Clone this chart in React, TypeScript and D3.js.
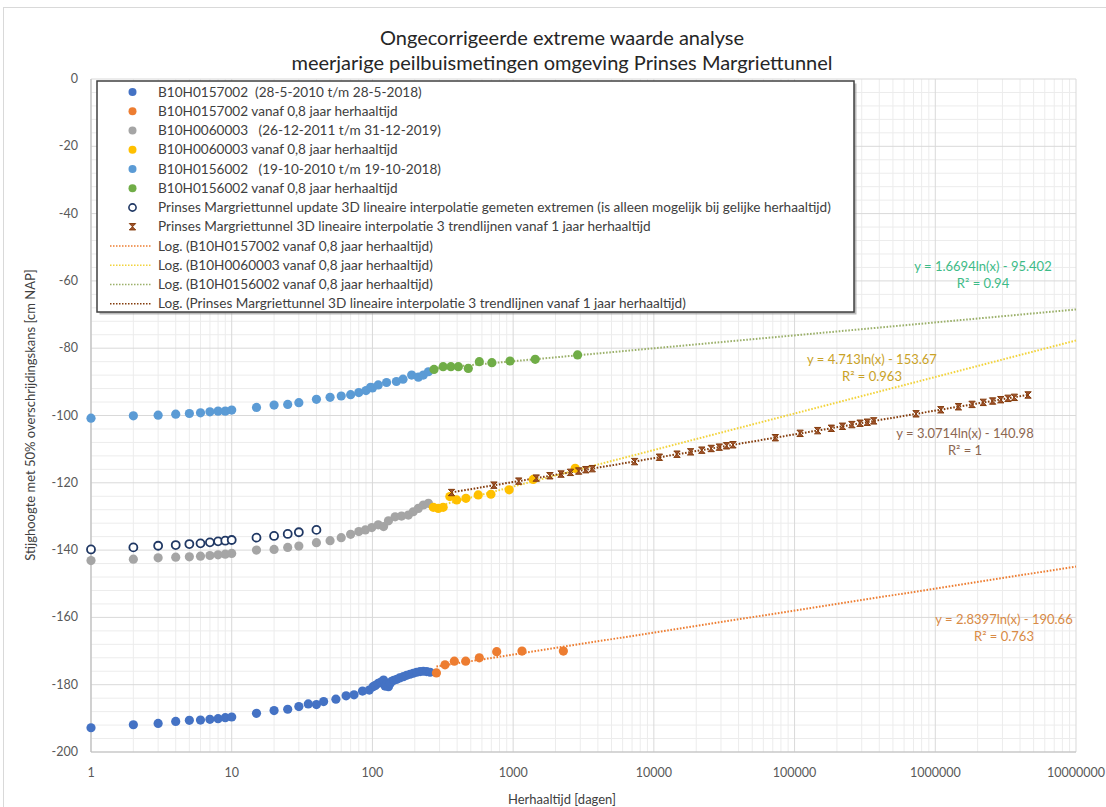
import React from "react";
import * as d3 from "d3";

const W = 1106;
const H = 807;

const titleLines = [
  "Ongecorrigeerde extreme waarde analyse",
  "meerjarige peilbuismetingen omgeving Prinses Margriettunnel",
];
const xTitle = "Herhaaltijd [dagen]";
const yTitle = "Stijghoogte met 50% overschrijdingskans [cm NAP]";

const xTicks = [1, 10, 100, 1000, 10000, 100000, 1000000, 10000000];
const yTicks = [0, -20, -40, -60, -80, -100, -120, -140, -160, -180, -200];

// B10H0157002 (28-5-2010 t/m 28-5-2018)
const s1X = [1, 2, 3, 4, 5, 6, 7, 8, 9, 10, 15, 20, 25, 30, 35, 40, 45, 55, 65, 74, 85, 95, 101, 105, 110, 115, 120, 123, 126, 130, 134, 137, 142, 149, 156, 166, 175, 185, 195, 206, 218, 230, 243, 257];
const s1Y = [-192.8, -191.9, -191.5, -190.9, -190.6, -190.5, -190.3, -190.1, -189.8, -189.6, -188.5, -187.7, -187.3, -186.5, -185.7, -185.9, -185.0, -184.3, -183.3, -183.0, -181.9, -181.6, -180.6, -180.2, -179.6, -179.2, -178.6, -180.4, -180.0, -180.6, -179.6, -179.0, -178.7, -178.4, -178.0, -177.6, -177.2, -176.9, -176.6, -176.3, -176.1, -176.0, -176.1, -176.3];
// B10H0157002 vanaf 0,8 jaar herhaaltijd
const s2X = [285, 328, 382, 460, 575, 764, 1156, 2275];
const s2Y = [-176.5, -174.1, -173.0, -173.0, -172.0, -170.2, -170.0, -170.0];
// B10H0060003 (26-12-2011 t/m 31-12-2019)
const s3X = [1, 2, 3, 4, 5, 6, 7, 8, 9, 10, 15, 20, 25, 30, 40, 50, 60, 70, 80, 89, 99, 110, 120, 130, 145, 161, 180, 195, 212, 230, 250];
const s3Y = [-143.1, -142.7, -142.3, -142.1, -142.0, -141.8, -141.6, -141.4, -141.2, -141.0, -140.0, -139.8, -139.2, -138.8, -137.8, -137.2, -136.3, -135.3, -134.5, -134.0, -133.3, -132.5, -133.0, -131.3, -130.1, -129.9, -129.6, -128.6, -127.6, -126.6, -126.1];
// B10H0060003 vanaf 0,8 jaar herhaaltijd
const s4X = [271, 294, 318, 355, 397, 462, 565, 695, 937, 1390, 2760];
const s4Y = [-127.3, -127.6, -127.3, -124.1, -125.1, -124.6, -123.6, -123.4, -122.1, -119.0, -115.7];
// B10H0156002 (19-10-2010 t/m 19-10-2018)
const s5X = [1, 2, 3, 4, 5, 6, 7, 8, 9, 10, 15, 20, 25, 30, 40, 50, 60, 70, 80, 90, 97, 100, 110, 126, 148, 165, 190, 212, 230, 250];
const s5Y = [-100.8, -100.1, -99.9, -99.6, -99.4, -99.2, -98.9, -98.7, -98.7, -98.4, -97.6, -96.9, -96.7, -96.2, -95.2, -94.6, -94.2, -93.8, -93.2, -92.6, -91.6, -91.8, -90.9, -90.2, -89.9, -89.2, -88.0, -88.6, -88.0, -87.0];
// B10H0156002 vanaf 0,8 jaar herhaaltijd
const s6X = [274, 318, 361, 408, 480, 575, 706, 950, 1435, 2870];
const s6Y = [-86.3, -85.5, -85.5, -85.5, -86.0, -84.0, -84.3, -83.8, -83.3, -82.0];
// Prinses Margriettunnel update 3D lineaire interpolatie gemeten extremen
const s7X = [1, 2, 3, 4, 5, 6, 7, 8, 9, 10, 15, 20, 25, 30, 40];
const s7Y = [-139.8, -139.2, -138.7, -138.5, -138.2, -138.0, -137.7, -137.4, -137.2, -137.0, -136.3, -135.8, -135.2, -134.7, -134.0];
// Prinses Margriettunnel 3D lineaire interpolatie 3 trendlijnen vanaf 1 jaar herhaaltijd
const s8X = [365, 730, 1095, 1460, 1825, 2190, 2555, 2920, 3285, 3650, 7300, 10950, 14600, 18250, 21900, 25550, 29200, 32850, 36500, 73000, 109500, 146000, 182500, 219000, 255500, 292000, 328500, 365000, 730000, 1095000, 1460000, 1825000, 2190000, 2555000, 2920000, 3285000, 3650000, 4562500];
const s8Y = [-122.9, -120.7, -119.5, -118.6, -117.9, -117.4, -116.9, -116.5, -116.1, -115.8, -113.7, -112.4, -111.5, -110.8, -110.3, -109.8, -109.4, -109.0, -108.7, -106.6, -105.3, -104.5, -103.8, -103.2, -102.7, -102.3, -102.0, -101.6, -99.5, -98.3, -97.4, -96.7, -96.1, -95.7, -95.3, -94.9, -94.6, -93.9];

const legendLabels = [
  "B10H0157002  (28-5-2010 t/m 28-5-2018)",
  "B10H0157002 vanaf 0,8 jaar herhaaltijd",
  "B10H0060003   (26-12-2011 t/m 31-12-2019)",
  "B10H0060003 vanaf 0,8 jaar herhaaltijd",
  "B10H0156002   (19-10-2010 t/m 19-10-2018)",
  "B10H0156002 vanaf 0,8 jaar herhaaltijd",
  "Prinses Margriettunnel update 3D lineaire interpolatie gemeten extremen (is alleen mogelijk bij gelijke herhaaltijd)",
  "Prinses Margriettunnel 3D lineaire interpolatie 3 trendlijnen vanaf 1 jaar herhaaltijd",
  "Log. (B10H0157002 vanaf 0,8 jaar herhaaltijd)",
  "Log. (B10H0060003 vanaf 0,8 jaar herhaaltijd)",
  "Log. (B10H0156002 vanaf 0,8 jaar herhaaltijd)",
  "Log. (Prinses Margriettunnel 3D lineaire interpolatie 3 trendlijnen vanaf 1 jaar herhaaltijd)",
];

// logarithmic trendlines: y = a ln(x) + b
const trendA = [2.8397, 4.713, 1.6694, 3.0714];
const trendB = [-190.66, -153.67, -95.402, -140.98];
const trendFrom = [285, 271, 274, 365];
const trendTo = [10000000, 10000000, 10000000, 4562500];
const trendEq = [
  "y = 2.8397ln(x) - 190.66",
  "y = 4.713ln(x) - 153.67",
  "y = 1.6694ln(x) - 95.402",
  "y = 3.0714ln(x) - 140.98",
];
const trendR2 = ["R² = 0.763", "R² = 0.963", "R² = 0.94", "R² = 1"];

const FONT = "Lato, 'Open Sans', sans-serif";

const xS = d3.scaleLog().domain([1, 1e7]).range([91, 1076]);
const yS = d3.scaleLinear().domain([-200, 0]).range([752, 79]);

const hourglass = "M-3.2,-3.2L3.2,-3.2L-3.2,3.2L3.2,3.2Z";

export default function App() {
  const seriesPts = [
    { xs: s1X, ys: s1Y, fill: "#4472C4" },
    { xs: s2X, ys: s2Y, fill: "#ED7D31" },
    { xs: s3X, ys: s3Y, fill: "#A5A5A5" },
    { xs: s4X, ys: s4Y, fill: "#FFC000" },
    { xs: s5X, ys: s5Y, fill: "#5B9BD5" },
    { xs: s6X, ys: s6Y, fill: "#70AD47" },
  ];
  const trendColors = ["#ED7D31", "#F2D33C", "#9BB06A", "#843C0C"];
  const eqColors = ["#D88A45", "#C9A227", "#3DBB87", "#8C6650"];
  const eqPos = [
    [1004, 619],
    [872, 359],
    [983, 266],
    [965, 433],
  ];

  const minorX: number[] = [];
  for (let e = 0; e < 7; e++) {
    for (let m = 2; m <= 9; m++) minorX.push(m * Math.pow(10, e));
  }
  const minorY: number[] = [];
  for (let v = -200; v <= 0; v += 4) if (v % 20 !== 0) minorY.push(v);

  const trendPath = (i: number) => {
    const lx0 = Math.log10(trendFrom[i]);
    const lx1 = Math.log10(trendTo[i]);
    const pts: [number, number][] = [];
    for (let k = 0; k <= 100; k++) {
      const xv = Math.pow(10, lx0 + ((lx1 - lx0) * k) / 100);
      pts.push([xS(xv), yS(trendA[i] * Math.log(xv) + trendB[i])]);
    }
    return d3.line()(pts) || "";
  };

  const legX = 97;
  const legY = 81;
  const legW = 757;
  const legH = 231;
  const rowY = (i: number) => 92 + i * 19.25;

  return (
    <svg
      width={W}
      height={H}
      style={{ position: "absolute", left: 0, top: 0, background: "#fff" }}
      fontFamily={FONT}
    >
      <rect x={0} y={0} width={W} height={H} fill="#fff" />
      <rect x={3.5} y={7.5} width={1110} height={830} fill="none" stroke="#d9d9d9" />
      {titleLines.map((t, i) => (
        <text key={i} x={562} y={45 + i * 25} textAnchor="middle" fontSize={20} fill="#262626">
          {t}
        </text>
      ))}

      {/* grid */}
      {minorX.map((v, i) => (
        <line key={"mx" + i} x1={xS(v)} x2={xS(v)} y1={79} y2={752} stroke="#ececec" strokeWidth={1} />
      ))}
      {minorY.map((v, i) => (
        <line key={"my" + i} x1={91} x2={1076} y1={yS(v)} y2={yS(v)} stroke="#ececec" strokeWidth={1} />
      ))}
      {xTicks.map((v, i) => (
        <line key={"gx" + i} x1={xS(v)} x2={xS(v)} y1={79} y2={752} stroke="#d9d9d9" strokeWidth={1} />
      ))}
      {yTicks.map((v, i) => (
        <line key={"gy" + i} x1={91} x2={1076} y1={yS(v)} y2={yS(v)} stroke="#d9d9d9" strokeWidth={1} />
      ))}
      <line x1={91} x2={91} y1={79} y2={752} stroke="#bfbfbf" strokeWidth={1.2} />
      <line x1={91} x2={1076} y1={752} y2={752} stroke="#bfbfbf" strokeWidth={1.2} />

      {/* tick labels */}
      {yTicks.map((v, i) => (
        <text key={"ty" + i} x={78} y={yS(v) + 4} textAnchor="end" fontSize={12.5} fill="#595959">
          {v}
        </text>
      ))}
      {xTicks.map((v, i) => (
        <text key={"tx" + i} x={xS(v)} y={777} textAnchor="middle" fontSize={12.5} fill="#595959">
          {String(v)}
        </text>
      ))}
      <text x={562} y={804} textAnchor="middle" fontSize={13} fill="#404040">
        {xTitle}
      </text>
      <text
        transform={`translate(35,415) rotate(-90)`}
        textAnchor="middle"
        fontSize={13}
        fill="#404040"
      >
        {yTitle}
      </text>

      {/* trendlines */}
      {trendA.map((_, i) => (
        <path
          key={"tr" + i}
          d={trendPath(i)}
          fill="none"
          stroke={trendColors[i]}
          strokeWidth={2}
          strokeDasharray="1.6 1.6"
        />
      ))}

      {/* series markers */}
      {seriesPts.map((s, si) => (
        <g key={"s" + si}>
          {s.xs.map((xv, k) => (
            <circle key={k} cx={xS(xv)} cy={yS(s.ys[k])} r={4.6} fill={s.fill} />
          ))}
        </g>
      ))}
      <g>
        {s7X.map((xv, k) => (
          <circle key={k} cx={xS(xv)} cy={yS(s7Y[k])} r={4} fill="#fff" stroke="#203864" strokeWidth={1.8} />
        ))}
      </g>
      <g>
        {s8X.map((xv, k) => (
          <path
            key={k}
            d={hourglass}
            transform={`translate(${xS(xv)},${yS(s8Y[k])})`}
            fill="#A0522D"
            stroke="#843C0C"
            strokeWidth={1}
          />
        ))}
      </g>

      {/* equation labels */}
      {trendEq.map((t, i) => (
        <g key={"eq" + i}>
          <text x={eqPos[i][0]} y={eqPos[i][1] + 4.5} textAnchor="middle" fontSize={13} fill={eqColors[i]}>
            {t}
          </text>
          <text x={eqPos[i][0]} y={eqPos[i][1] + 21.5} textAnchor="middle" fontSize={13} fill={eqColors[i]}>
            {trendR2[i]}
          </text>
        </g>
      ))}

      {/* legend */}
      <rect x={legX + 2.5} y={legY + 2.5} width={legW} height={legH} fill="#8c8c8c" opacity={0.6} />
      <rect x={legX} y={legY} width={legW} height={legH} fill="#fff" stroke="#404040" strokeWidth={1.5} />
      {legendLabels.map((t, i) => {
        const yy = rowY(i);
        let marker: React.ReactNode = null;
        if (i < 6) {
          marker = <circle cx={132.5} cy={yy} r={4} fill={seriesPts[i].fill} />;
        } else if (i === 6) {
          marker = <circle cx={132.5} cy={yy} r={3.6} fill="#fff" stroke="#203864" strokeWidth={1.6} />;
        } else if (i === 7) {
          marker = (
            <path d={hourglass} transform={`translate(132.5,${yy})`} fill="#A0522D" stroke="#843C0C" strokeWidth={1} />
          );
        } else {
          marker = (
            <line
              x1={110}
              x2={152}
              y1={yy}
              y2={yy}
              stroke={trendColors[i - 8]}
              strokeWidth={1.5}
              strokeDasharray="1.5 1.5"
            />
          );
        }
        return (
          <g key={"lg" + i}>
            {marker}
            <text x={158} y={yy + 4.5} fontSize={13.6} fill="#404040" style={{ whiteSpace: "pre" }}>
              {t}
            </text>
          </g>
        );
      })}
    </svg>
  );
}
